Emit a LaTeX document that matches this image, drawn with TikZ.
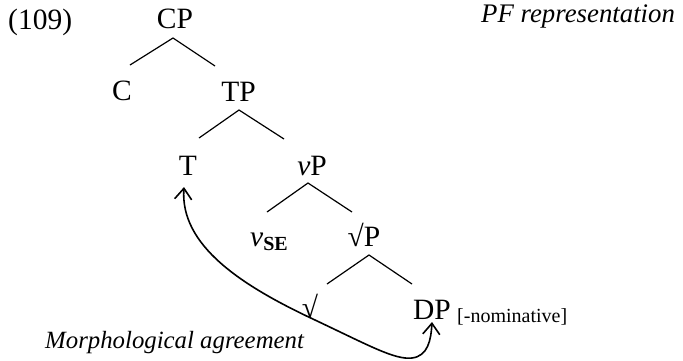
\documentclass[tikz,border=0pt]{standalone}
\usepackage{fontspec}
\setmainfont{Liberation Serif}
\usetikzlibrary{arrows.meta}
\begin{document}
\begin{tikzpicture}[x=1pt,y=-1pt,
  lbl/.style={inner sep=0pt,anchor=base,font=\fontsize{29.5}{32}\selectfont},
  lblw/.style={inner sep=0pt,anchor=base west,font=\fontsize{29.5}{32}\selectfont},
  branch/.style={line width=1.2pt},
  agree/.style={line width=1.6pt,{Straight Barb[length=11pt,width=17pt,line width=1.6pt]}-{Straight Barb[length=11pt,width=17pt,line width=1.6pt]}}]
\useasboundingbox (0,0) rectangle (683,360);
% labels
\node[lblw] (num) at (8,29) {(109)};
\node[inner sep=0pt,anchor=base west,font=\fontsize{26.8}{30}\selectfont\itshape] (pf) at (481,22) {PF representation};
\node[lbl] (CP) at (175,28) {CP};
\node[lbl] (C) at (122,100) {C};
\node[lbl] (TP) at (238.5,101) {TP};
\node[lbl] (T) at (188,175) {T};
\node[lbl] (vP) at (312,175) {\textit{v}P};
\node[lblw] (vSE) at (250,246) {\textit{v}{\fontsize{20}{20}\selectfont\bfseries\raisebox{-4pt}{SE}}};
\node[lbl] (rP) at (364,246) {√P};
\node[lbl] (r) at (310,317) {√};
\node[lbl] (DP) at (432,319) {DP};
\node[inner sep=0pt,anchor=base west,font=\fontsize{20}{22}\selectfont] (nom) at (457,322) {[-nominative]};
\node[inner sep=0pt,anchor=base west,font=\fontsize{24.8}{28}\selectfont\itshape] (ma) at (45,348) {Morphological agreement};
% branch points
\coordinate (CPb) at (173,38); \coordinate (CPl) at (130,65); \coordinate (CPr) at (215,66);
\coordinate (TPb) at (239,110); \coordinate (TPl) at (199,138); \coordinate (TPr) at (284,139);
\coordinate (vPb) at (308,183); \coordinate (vPl) at (267,212); \coordinate (vPr) at (352,212);
\coordinate (rPb) at (369,255); \coordinate (rPl) at (327,284); \coordinate (rPr) at (412,284);
\draw[branch] (CPl) -- (CPb) -- (CPr);
\draw[branch] (TPl) -- (TPb) -- (TPr);
\draw[branch] (vPl) -- (vPb) -- (vPr);
\draw[branch] (rPl) -- (rPb) -- (rPr);
% agreement arrow
\coordinate (Tend) at (184,187);
\coordinate (DPend) at (432,322);
\draw[agree] (Tend) .. controls (180,245) and (240,285) .. (315,320)
  .. controls (370,346) and (395,360) .. (412,358)
  .. controls (428,356) and (431,340) .. (DPend);
\end{tikzpicture}
\end{document}
